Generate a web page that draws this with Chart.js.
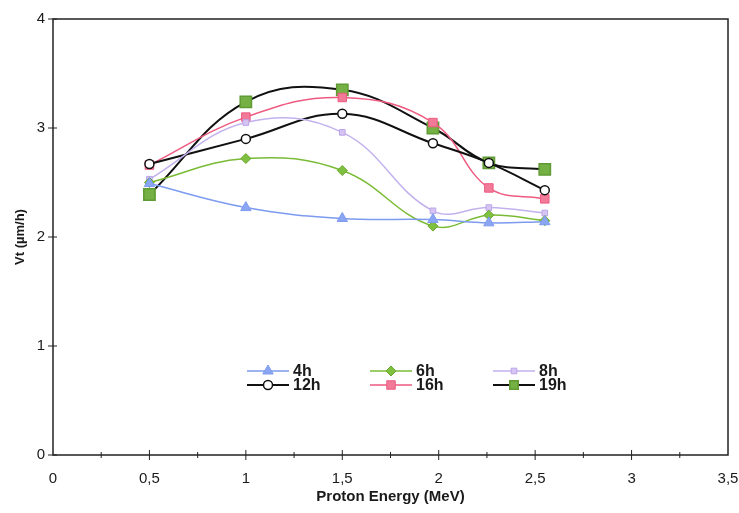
<!DOCTYPE html>
<html lang="en">
<head>
    <meta charset="UTF-8">
    <title>Vt vs Proton Energy</title>
    <script src="https://cdn.jsdelivr.net/npm/chart.js"></script>
    <style>
        body { margin: 0; background: #ffffff; }
        #wrap { position: relative; width: 739px; height: 513px; }
    </style>
</head>
<body>
    <div id="wrap"><canvas id="chart"></canvas></div>

    <script>
        // data
        const energies = [0.5, 1, 1.5, 1.97, 2.26, 2.55];
        const v4h  = [2.49, 2.27, 2.17, 2.16, 2.13, 2.14];
        const v6h  = [2.50, 2.72, 2.61, 2.10, 2.20, 2.15];
        const v8h  = [2.53, 3.05, 2.96, 2.24, 2.27, 2.22];
        const v12h = [2.67, 2.90, 3.13, 2.86, 2.68, 2.43];
        const v16h = [2.66, 3.10, 3.28, 3.05, 2.45, 2.35];
        const v19h = [2.39, 3.24, 3.35, 3.00, 2.68, 2.62];
        const seriesNames = ['4h', '6h', '8h', '12h', '16h', '19h'];
        const xTicks = [0, 0.5, 1, 1.5, 2, 2.5, 3, 3.5];
        const yTicks = [0, 1, 2, 3, 4];

        const toPoints = vals => energies.map((e, i) => ({ x: e, y: vals[i] }));

        function series(label, vals, color, style) {
            return Object.assign({
                label: label,
                data: toPoints(vals),
                borderColor: color,
                borderWidth: 1.5,
                tension: 0.4,
                pointRadius: 5,
                pointBorderWidth: 1
            }, style);
        }

        const datasets = [
            series(seriesNames[0], v4h, '#7d9bef', { pointStyle: 'triangle', pointRadius: 6, pointBackgroundColor: '#8aa6f2', pointBorderColor: '#7d9bef' }),
            series(seriesNames[1], v6h, '#79bb34', { pointStyle: 'rectRot', pointRadius: 5, pointBackgroundColor: '#7fc040', pointBorderColor: '#6aa62c' }),
            series(seriesNames[2], v8h, '#c3b1ee', { pointStyle: 'rect', pointRadius: 4, pointBackgroundColor: '#d6c4f3', pointBorderColor: '#bba6ea' }),
            series(seriesNames[3], v12h, '#111111', { pointStyle: 'circle', pointRadius: 4.5, pointBackgroundColor: '#ffffff', pointBorderColor: '#111111', pointBorderWidth: 1.5, borderWidth: 2 }),
            series(seriesNames[4], v16h, '#ee5a80', { pointStyle: 'rect', pointRadius: 6, pointBackgroundColor: '#f07a98', pointBorderColor: '#ee5a80' }),
            series(seriesNames[5], v19h, '#111111', { pointStyle: 'rect', pointRadius: 8, pointBackgroundColor: '#74b043', pointBorderColor: '#5f9a35', pointBorderWidth: 1.5, borderWidth: 2 })
        ];

        // frame around the plot plus crossing tick marks (major and minor)
        const framePlugin = {
            id: 'frame',
            beforeDatasetsDraw(chart) {
                const ctx = chart.ctx;
                const a = chart.chartArea;
                const xs = chart.scales.x, ys = chart.scales.y;
                ctx.save();
                ctx.strokeStyle = '#222';
                ctx.lineWidth = 1.5;
                ctx.strokeRect(a.left, a.top, a.right - a.left, a.bottom - a.top);
                ctx.lineWidth = 1;
                for (let v = 0.25; v < 3.5; v += 0.25) {
                    const px = xs.getPixelForValue(v);
                    const len = (Math.round(v * 4) % 2 === 0) ? 5 : 3;
                    ctx.beginPath();
                    ctx.moveTo(px, a.bottom - len);
                    ctx.lineTo(px, a.bottom + len);
                    ctx.stroke();
                }
                yTicks.forEach(v => {
                    const py = ys.getPixelForValue(v);
                    ctx.beginPath();
                    ctx.moveTo(a.left - 5, py);
                    ctx.lineTo(a.left + 4, py);
                    ctx.stroke();
                });
                ctx.restore();
            }
        };

        // legend in a 3 x 2 grid inside the plot
        const gridLegend = {
            id: 'gridLegend',
            afterDatasetsDraw(chart) {
                const ctx = chart.ctx;
                const a = chart.chartArea;
                const colX = [194, 317, 440];
                const rowY = [352, 366];
                ctx.save();
                chart.data.datasets.forEach((ds, i) => {
                    const x0 = a.left + colX[i % 3];
                    const y0 = a.top + rowY[Math.floor(i / 3)];
                    ctx.strokeStyle = ds.borderColor;
                    ctx.lineWidth = ds.borderWidth;
                    ctx.beginPath();
                    ctx.moveTo(x0, y0);
                    ctx.lineTo(x0 + 42, y0);
                    ctx.stroke();
                    ctx.fillStyle = ds.pointBackgroundColor;
                    ctx.strokeStyle = ds.pointBorderColor;
                    ctx.lineWidth = ds.pointBorderWidth;
                    Chart.helpers.drawPoint(ctx, {
                        pointStyle: ds.pointStyle,
                        radius: Math.min(ds.pointRadius, 6),
                        rotation: 0,
                        borderWidth: ds.pointBorderWidth
                    }, x0 + 21, y0);
                    ctx.fillStyle = '#1a1a1a';
                    ctx.font = 'bold 16px "Liberation Sans", Arial, sans-serif';
                    ctx.textBaseline = 'middle';
                    ctx.textAlign = 'left';
                    ctx.fillText(ds.label, x0 + 46, y0 + 1);
                });
                ctx.restore();
            }
        };

        const tickFont = { family: '"Liberation Sans", Arial, sans-serif', size: 15 };
        const titleFont = { family: '"Liberation Sans", Arial, sans-serif', size: 15, weight: 'bold' };

        new Chart(document.getElementById('chart'), {
            type: 'line',
            data: { datasets: datasets },
            options: {
                responsive: true,
                maintainAspectRatio: false,
                animation: false,
                layout: { padding: { top: 19, right: 11, left: 0, bottom: 0 } },
                plugins: {
                    legend: { display: false },
                    tooltip: { enabled: false }
                },
                scales: {
                    x: {
                        type: 'linear',
                        min: 0,
                        max: 3.5,
                        grid: { display: false, drawTicks: false },
                        border: { display: false },
                        afterBuildTicks: s => { s.ticks = xTicks.map(v => ({ value: v })); },
                        afterFit: s => { s.height = 58; s.paddingLeft = 0; s.paddingRight = 0; },
                        ticks: {
                            color: '#1a1a1a',
                            font: tickFont,
                            padding: 15,
                            maxRotation: 0,
                            callback: v => String(v).replace('.', ',')
                        },
                        title: {
                            display: true,
                            text: 'Proton Energy (MeV)',
                            color: '#1a1a1a',
                            font: titleFont,
                            padding: { top: 2, bottom: 7 }
                        }
                    },
                    y: {
                        min: 0,
                        max: 4,
                        grid: { display: false, drawTicks: false },
                        border: { display: false },
                        afterBuildTicks: s => { s.ticks = yTicks.map(v => ({ value: v })); },
                        afterFit: s => { s.width = 53; },
                        ticks: {
                            color: '#1a1a1a',
                            font: tickFont,
                            padding: 8
                        },
                        title: {
                            display: true,
                            text: 'Vt (µm/h)',
                            color: '#1a1a1a',
                            font: { family: '"Liberation Sans", Arial, sans-serif', size: 13, weight: 'bold' },
                            padding: { top: 13, bottom: 2 }
                        }
                    }
                }
            },
            plugins: [framePlugin, gridLegend]
        });
    </script>
</body>
</html>
